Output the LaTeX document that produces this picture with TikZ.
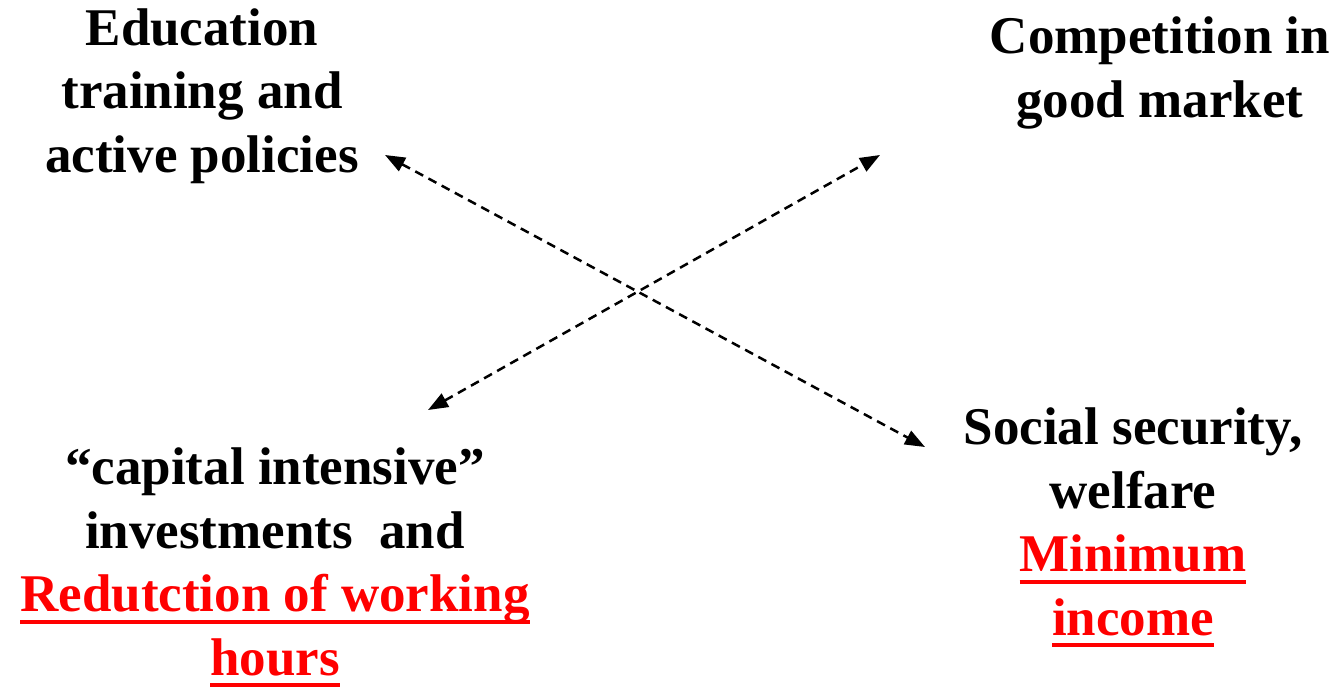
\documentclass[tikz,border=0pt]{standalone}
\usepackage{fontspec}
\setmainfont{Liberation Serif}
\usetikzlibrary{arrows.meta}
\newcommand\redul[1]{\textcolor{red}{\setbox0\hbox{#1}\rlap{\rule[-12pt]{\wd0}{4pt}}\box0}}
\begin{document}
\begin{tikzpicture}[x=1pt,y=-1pt,
  lbl/.style={align=center,inner sep=0pt,anchor=base,font=\fontsize{53}{63.5}\selectfont\bfseries},
  link/.style={dashed,dash pattern=on 9pt off 6pt,line width=2.5pt,{Triangle[length=20pt,width=15pt]}-{Triangle[length=20pt,width=15pt]}}]
\useasboundingbox (0,0) rectangle (1338,686);
\node[lbl] (edu) at (202,172) {Education\\training and\\active policies};
\node[lbl] (comp) at (1160,117) {Competition in\\good market};
\node[lbl] (cap) at (275,675) {``capital intensive''\\investments\ \ and\\\redul{Redutction of working}\\\redul{hours}};
\node[lbl] (soc) at (1133,635) {Social security,\\welfare\\\redul{Minimum}\\\redul{income}};
\coordinate (e1) at (385,155);
\coordinate (s1) at (925,447);
\coordinate (c1) at (880,155);
\coordinate (k1) at (428,410);
\draw[link] (e1) -- (s1);
\draw[link] (k1) -- (c1);
\end{tikzpicture}
\end{document}
